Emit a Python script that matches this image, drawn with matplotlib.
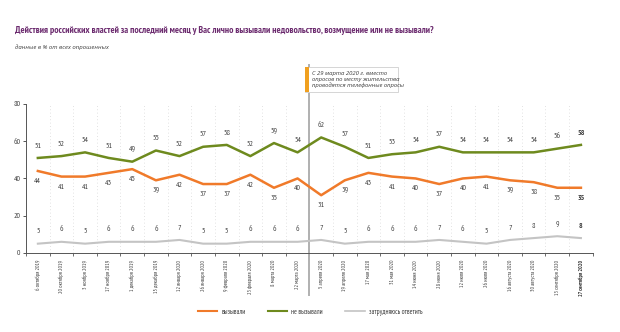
import matplotlib
matplotlib.use("Agg")
import matplotlib.pyplot as plt
from matplotlib.lines import Line2D
from matplotlib.patches import Rectangle

dates = [
    "6 октября 2019", "20 октября 2019", "3 ноября 2019", "17 ноября 2019",
    "1 декабря 2019", "15 декабря 2019", "12 января 2020", "26 января 2020",
    "9 февраля 2020", "23 февраля 2020", "8 марта 2020", "22 марта 2020",
    "5 апреля 2020", "19 апреля 2020", "17 мая 2020", "31 мая 2020",
    "14 июня 2020", "28 июня 2020", "12 июля 2020", "26 июля 2020",
    "16 августа 2020", "30 августа 2020", "13 сентября 2020", "27 сентября 2020",
]
caused = [44, 41, 41, 43, 45, 39, 42, 37, 37, 42, 35, 40,
          31, 39, 43, 41, 40, 37, 40, 41, 39, 38, 35, 35]
not_caused = [51, 52, 54, 51, 49, 55, 52, 57, 58, 52, 59, 54,
              62, 57, 51, 53, 54, 57, 54, 54, 54, 54, 56, 58]
hard_to_say = [5, 6, 5, 6, 6, 6, 7, 5, 5, 6, 6, 6,
               7, 5, 6, 6, 6, 7, 6, 5, 7, 8, 9, 8]

ORANGE = "#f07a2a"
GREEN = "#6e8a1e"
GREY = "#c4c4c4"
PURPLE = "#6b2a6e"
TXT = "#3a3a3a"

plt.rcParams["font.family"] = ["PT Sans Narrow", "DejaVu Sans"]
ITALIC = ["Open Sans", "DejaVu Sans"]

fig = plt.figure(figsize=(6.2, 3.32), dpi=100)
ax = fig.add_axes([0.042, 0.238, 0.914, 0.449])

x = list(range(len(dates)))
ax.plot(x, not_caused, color=GREEN, lw=1.8, zorder=3)
ax.plot(x, caused, color=ORANGE, lw=1.8, zorder=3)
ax.plot(x, hard_to_say, color=GREY, lw=1.5, zorder=3)

last = len(dates) - 1
for i in x:
    w = "bold" if i == last else "normal"
    ax.annotate(str(not_caused[i]), (i, not_caused[i]), xytext=(0, 6),
                textcoords="offset points", ha="center", va="bottom",
                fontsize=5.6, color=TXT, fontweight=w)
    ax.annotate(str(caused[i]), (i, caused[i]), xytext=(0, -5),
                textcoords="offset points", ha="center", va="top",
                fontsize=5.6, color=TXT, fontweight=w)
    ax.annotate(str(hard_to_say[i]), (i, hard_to_say[i]), xytext=(0, 6),
                textcoords="offset points", ha="center", va="bottom",
                fontsize=5.6, color=TXT, fontweight=w)

ax.set_xlim(-0.5, last + 0.5)
ax.set_ylim(0, 80)
ax.set_yticks([0, 20, 40, 60, 80])
ax.tick_params(axis="y", labelsize=5.6, colors=TXT, length=2, width=0.6, pad=2)

# category boundaries: minor ticks + dotted gridlines
bounds = [i - 0.5 for i in range(len(dates) + 1)]
ax.set_xticks(x)
ax.set_xticklabels(dates, rotation=90, fontsize=4.0, color=TXT)
ax.get_xticklabels()[-1].set_fontweight("bold")
ax.tick_params(axis="x", which="major", length=0, pad=5)
ax.set_xticks(bounds, minor=True)
ax.tick_params(axis="x", which="minor", length=2.5, width=0.6, color="#555")
for b in bounds[1:-1]:
    ax.axvline(b, color="#d8d8d8", lw=0.6, ls=(0, (1, 3)), zorder=1)

for s in ["top", "right"]:
    ax.spines[s].set_visible(False)
for s in ["left", "bottom"]:
    ax.spines[s].set_color("#555")
    ax.spines[s].set_linewidth(0.7)

# method change marker
ax.axvline(11.5, ymin=-0.28, ymax=1.26, color="#b0b0b0", lw=1.4,
           clip_on=False, zorder=2)

# note box
bx0, by0, bw, bh = 0.492, 0.722, 0.150, 0.077
fig.patches.append(Rectangle((bx0, by0), bw, bh, transform=fig.transFigure,
                             facecolor="white", edgecolor="#cfcfcf", lw=0.6,
                             zorder=5))
fig.patches.append(Rectangle((bx0, by0), 0.006, bh, transform=fig.transFigure,
                             facecolor="#f0a020", edgecolor="none", zorder=6))
fig.text(bx0 + 0.011, by0 + bh / 2,
         "С 29 марта 2020 г. вместо\nопросов по месту жительства\nпроводятся телефонные опросы",
         fontsize=4.2, style="italic", family=ITALIC, color=TXT, va="center",
         ha="left", linespacing=1.25, zorder=7)

fig.text(0.024, 0.908,
         "Действия российских властей за последний месяц у Вас лично вызывали недовольство, возмущение или не вызывали?",
         fontsize=6.9, color=PURPLE, fontweight="bold", va="center", ha="left")
fig.text(0.024, 0.858, "данные в % от всех опрошенных", fontsize=4.3,
         style="italic", family=ITALIC, color=TXT, va="center", ha="left")

handles = [Line2D([], [], color=ORANGE, lw=1.5),
           Line2D([], [], color=GREEN, lw=1.5),
           Line2D([], [], color=GREY, lw=1.2)]
fig.legend(handles, ["вызывали", "не вызывали", "затрудняюсь ответить"],
           loc="center", bbox_to_anchor=(0.5, 0.06), ncol=3, frameon=False,
           fontsize=5.0, handlelength=2.8, columnspacing=3.2, handletextpad=0.6,
           labelcolor=TXT)

fig.savefig("out.png", dpi=100, facecolor="white")
